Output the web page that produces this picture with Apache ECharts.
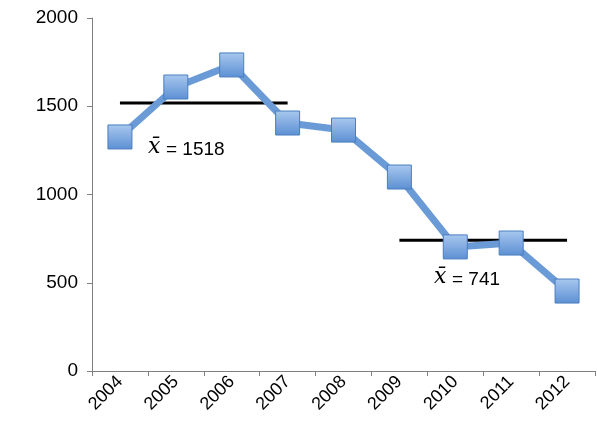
<!DOCTYPE html>
<html>
<head>
<meta charset="utf-8">
<script src="https://cdn.jsdelivr.net/npm/echarts@6/dist/echarts.min.js"></script>
<style>html,body{margin:0;background:#fff}#chart{width:597px;height:429px}</style>
</head>
<body>
<div id="chart"></div>
<script>
const years = ['2004','2005','2006','2007','2008','2009','2010','2011','2012'];
const values = [1326, 1609, 1734, 1405, 1365, 1099, 703, 725, 453];
const mean1 = 1518, mean2 = 741;
const mean1Line = [mean1, mean1, mean1, mean1, '-', '-', '-', '-', '-'];
const mean2Line = ['-', '-', '-', '-', '-', mean2, mean2, mean2, mean2];

let chart = echarts.init(document.getElementById('chart'));
let font = 'Liberation Sans, Arial, sans-serif';
let meanSeries = data => ({
  type: 'line', data: data, symbol: 'none', silent: true, z: 1,
  lineStyle: { color: '#000', width: 3 }
});
chart.setOption({
  animation: false,
  grid: { left: 92, right: 2, top: 18, bottom: 58 },
  xAxis: {
    type: 'category', data: years,
    axisLine: { lineStyle: { color: '#808080' } },
    axisTick: { show: true, lineStyle: { color: '#808080' } },
    axisLabel: { rotate: 45, color: '#000', fontSize: 18, fontFamily: font, margin: 8 }
  },
  yAxis: {
    type: 'value', min: 0, max: 2000, interval: 500,
    splitLine: { show: false },
    axisLine: { show: true, lineStyle: { color: '#808080' } },
    axisTick: { show: true, lineStyle: { color: '#808080' } },
    axisLabel: { color: '#000', fontSize: 19, fontFamily: font, margin: 14, formatter: v => String(v) }
  },
  series: [meanSeries(mean1Line), meanSeries(mean2Line), {
    type: 'line', data: values, z: 3,
    lineStyle: { color: '#6b9bd6', width: 7 },
    symbol: 'rect', symbolSize: 24,
    itemStyle: {
      color: new echarts.graphic.LinearGradient(0, 0, 0, 1, [
        { offset: 0, color: '#a9c8ef' }, { offset: 1, color: '#5b8fd3' }]),
      borderColor: '#4a7ec0', borderWidth: 1
    }
  }],
  graphic: [
    { type: 'text', left: 148, top: 136, style: { text: 'x̄', font: 'italic 22px "DejaVu Serif", serif', fill: '#000' } },
    { type: 'text', left: 166, top: 140, style: { text: '= ' + mean1, font: '19px ' + font, fill: '#000' } },
    { type: 'text', left: 434, top: 266, style: { text: 'x̄', font: 'italic 22px "DejaVu Serif", serif', fill: '#000' } },
    { type: 'text', left: 452, top: 270, style: { text: '= ' + mean2, font: '19px ' + font, fill: '#000' } }
  ]
});
</script>
</body>
</html>
